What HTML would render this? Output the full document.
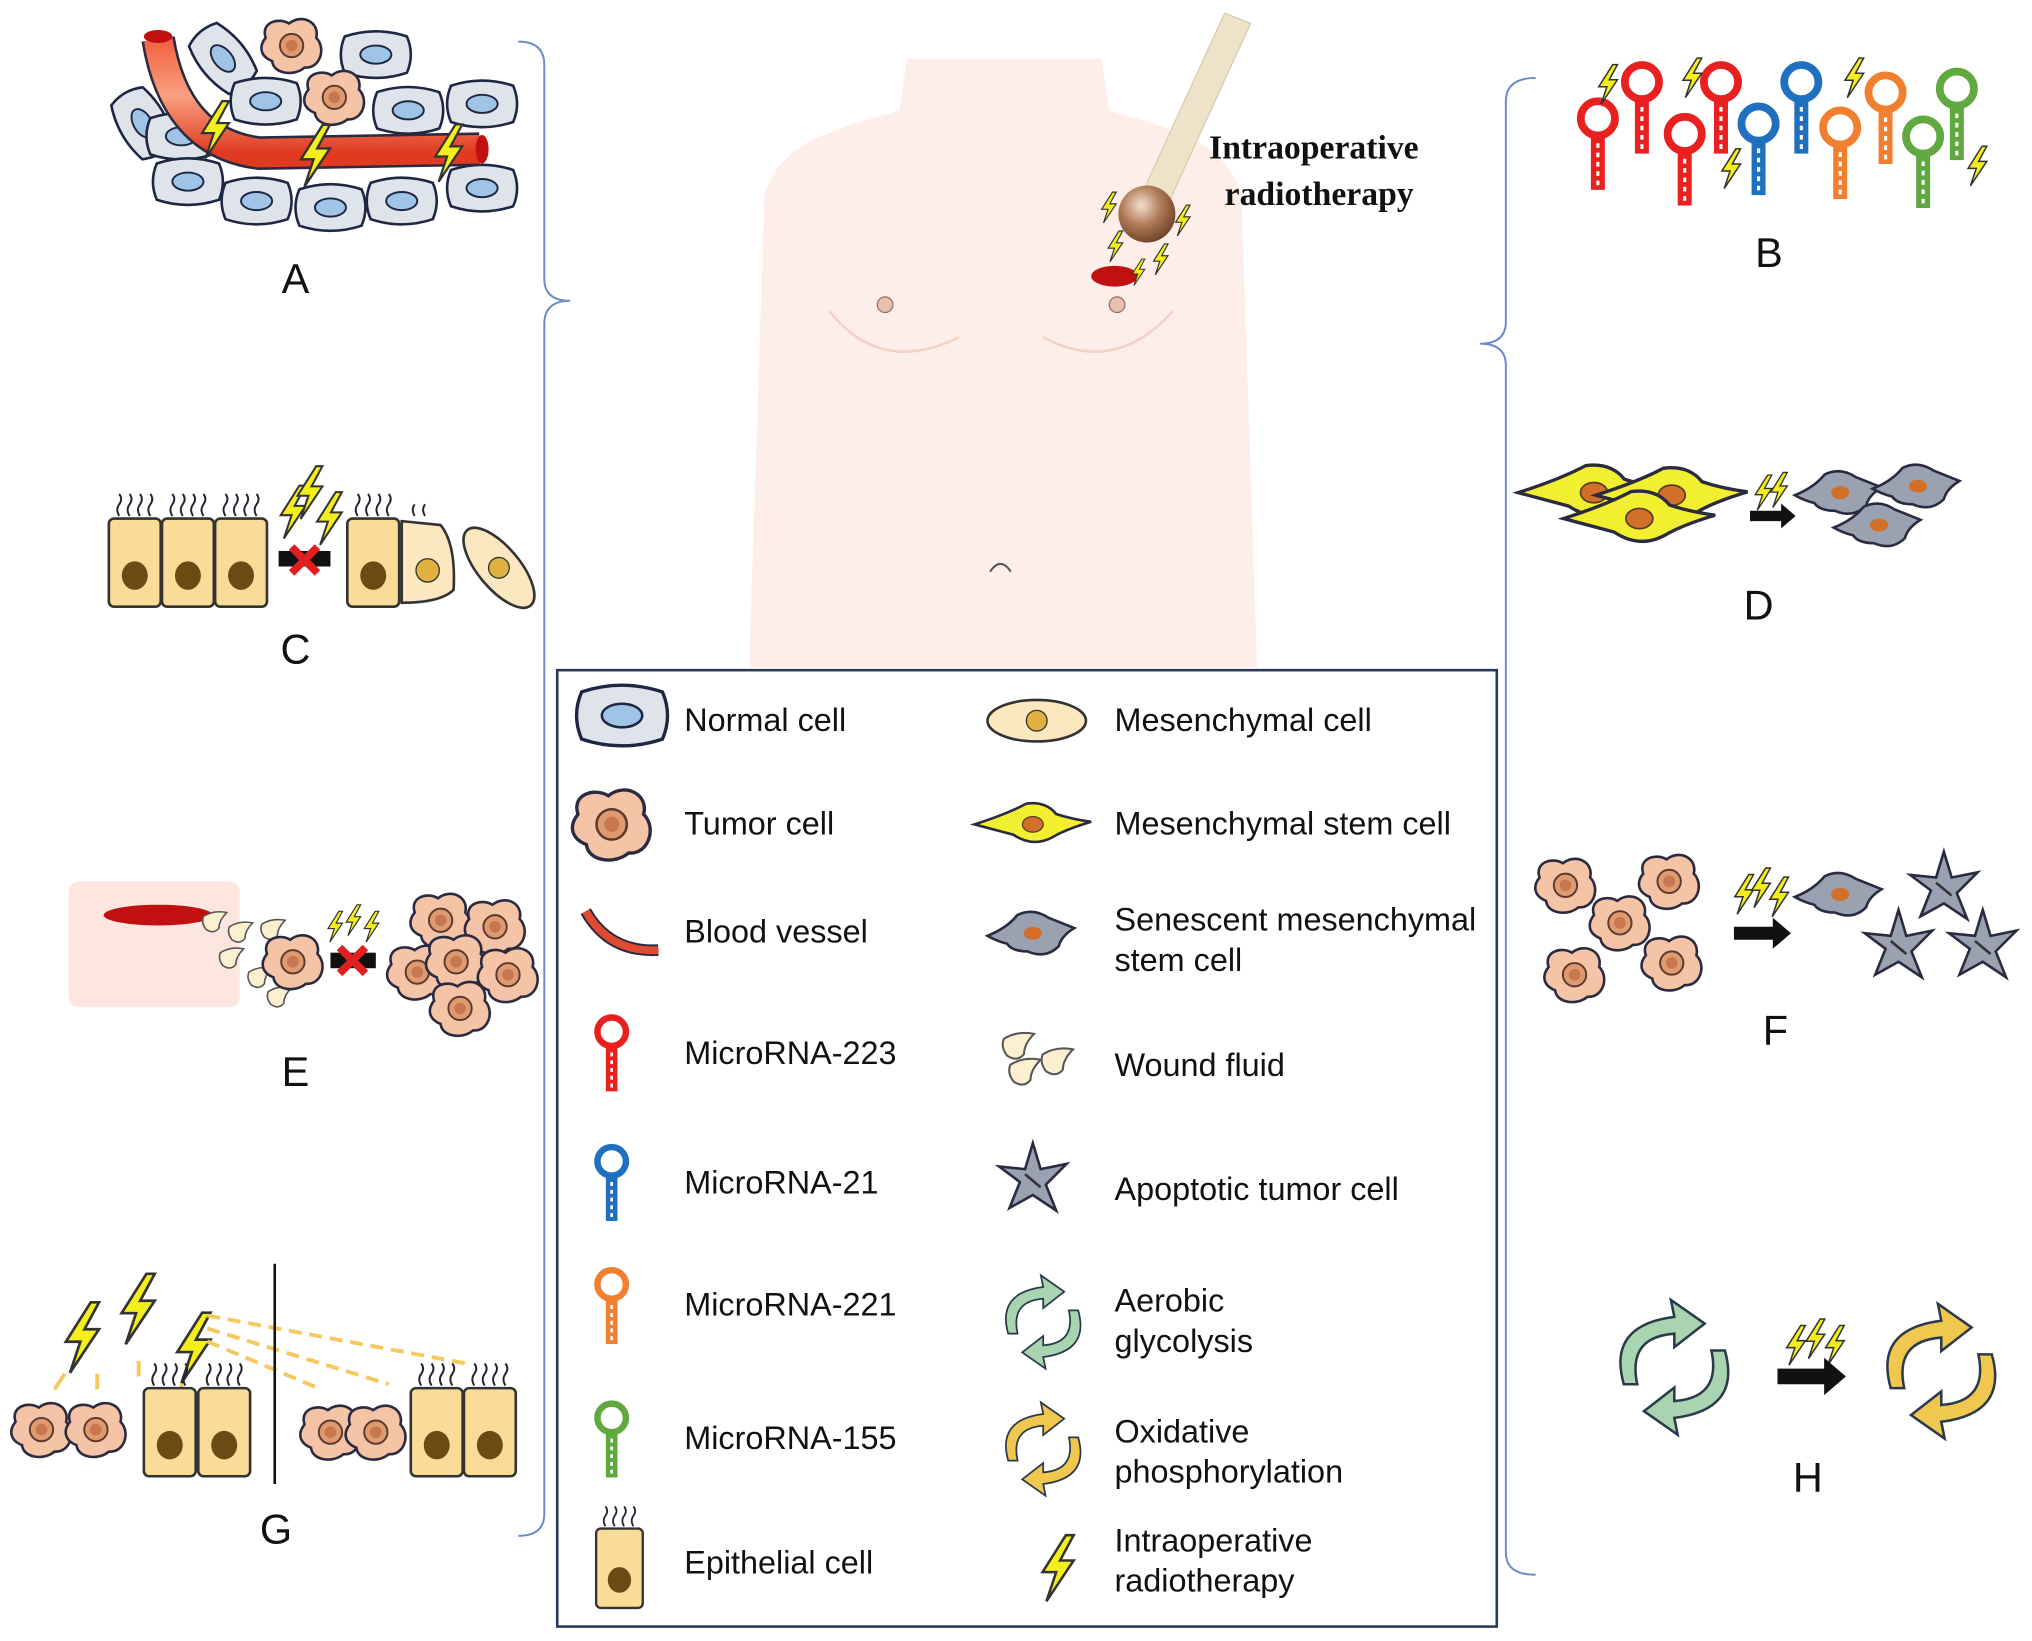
<!DOCTYPE html>
<html><head><meta charset="utf-8"><style>
html,body{margin:0;padding:0;background:#fff;}
svg{display:block;}
text{font-family:"Liberation Sans",Arial,sans-serif;fill:#111;}
</style></head><body>
<svg width="2032" height="1641" viewBox="0 0 1568 1266" xmlns="http://www.w3.org/2000/svg">
<defs>
<radialGradient id="ball" cx="0.4" cy="0.35" r="0.7"><stop offset="0" stop-color="#f3e0d0"/><stop offset="0.5" stop-color="#b07a58"/><stop offset="1" stop-color="#6a3e24"/></radialGradient>
<linearGradient id="ves" x1="0" y1="0" x2="0" y2="1"><stop offset="0" stop-color="#f06040"/><stop offset="0.5" stop-color="#f8a080"/><stop offset="1" stop-color="#e03a20"/></linearGradient>
<g id="nc"><path d="M-24,-14 Q0,-22 24,-14 Q30,0 24,14 Q0,22 -24,14 Q-30,0 -24,-14Z" fill="#dfe4ea" stroke="#1d2744" stroke-width="2"/><ellipse rx="12" ry="7" fill="#9fc4e6" stroke="#1d2744" stroke-width="1.5"/></g>
<g id="tc"><path d="M-20,-6 C-24,-18 -10,-22 -2,-17 C8,-25 22,-18 19,-6 C27,2 22,18 10,17 C2,24 -14,22 -15,12 C-25,8 -25,0 -20,-6Z" fill="#f5c3a6" stroke="#2a2a40" stroke-width="2"/><circle r="9" fill="#e09a70" stroke="#5a3a30" stroke-width="1.5"/><circle r="4.5" fill="#c87850"/></g>
<g id="mr"><circle cy="-14" r="11" fill="#fff" stroke="currentColor" stroke-width="5"/><line y1="-3" y2="32" stroke="currentColor" stroke-width="9"/><line y1="2" y2="30" stroke="#fff" stroke-width="2" stroke-dasharray="3,3"/></g>
<g id="bolt"><polygon points="5,-17 -7,2 0,2 -5,17 9,-4 2,-4 9,-17" fill="#f4ef1c" stroke="#333" stroke-width="1.3"/></g>
<g id="ep"><rect x="-20" y="-34" width="40" height="68" rx="4" fill="#f8dc98" stroke="#333" stroke-width="2"/><ellipse cy="10" rx="10" ry="11" fill="#6b4a14"/><path d="M-12,-36 q-3,-5 0,-9 q3,-4 0,-8 M-4,-36 q-3,-5 0,-9 q3,-4 0,-8 M4,-36 q-3,-5 0,-9 q3,-4 0,-8 M12,-36 q-3,-5 0,-9 q3,-4 0,-8" fill="none" stroke="#223" stroke-width="1.5"/></g>
<g id="msc"><path d="M-45,0 Q-20,-8 -5,-16 Q10,-18 18,-8 Q30,-4 45,-2 Q25,4 15,10 Q0,18 -15,8 Q-30,4 -45,0Z" fill="#f2ee30" stroke="#2a2a40" stroke-width="2"/><ellipse rx="8" ry="6" fill="#d2702a" stroke="#5a3a20"/></g>
<g id="sen"><path d="M-35,2 Q-20,-4 -12,-14 Q0,-20 12,-12 Q22,-8 32,-4 Q22,2 20,10 Q10,20 -4,14 Q-16,14 -20,8 Q-28,6 -35,2Z" fill="#9aa2b2" stroke="#2a2a40" stroke-width="2"/><ellipse rx="7" ry="5" fill="#d2702a"/></g>
<g id="apo"><path d="M0,-28 L6,-8 L26,-12 L10,4 L18,24 L0,12 L-18,22 L-10,2 L-26,-10 L-6,-8Z" fill="#9aa2b2" stroke="#2a2a40" stroke-width="2"/><line x1="-6" y1="-4" x2="6" y2="6" stroke="#333" stroke-width="2"/></g>
<g id="mes"><ellipse rx="38" ry="16" fill="#fbe8c0" stroke="#333" stroke-width="2"/><circle r="8" fill="#e0b040" stroke="#333"/></g>
<g id="drop"><path d="M-8,-5 Q0,-10 10,-8 Q4,-2 4,4 Q0,9 -6,5 Q-10,0 -8,-5Z" fill="#fbefd0" stroke="#555" stroke-width="1.2"/></g>
<g id="cycG"><path d="M-30,10 Q-40,-25 0,-30 L-2,-40 L18,-26 L0,-12 L0,-20 Q-28,-18 -22,10Z" fill="#a8d4b0" stroke="#2a3a4a" stroke-width="1.5"/><path d="M30,-10 Q40,25 0,30 L2,40 L-18,26 L0,12 L0,20 Q28,18 22,-10Z" fill="#a8d4b0" stroke="#2a3a4a" stroke-width="1.5"/></g>
<g id="cycY"><path d="M-30,10 Q-40,-25 0,-30 L-2,-40 L18,-26 L0,-12 L0,-20 Q-28,-18 -22,10Z" fill="#f0c850" stroke="#2a3a4a" stroke-width="1.5"/><path d="M30,-10 Q40,25 0,30 L2,40 L-18,26 L0,12 L0,20 Q28,18 22,-10Z" fill="#f0c850" stroke="#2a3a4a" stroke-width="1.5"/></g>
<g id="arr"><path d="M-22,-5 L8,-5 L8,-12 L22,0 L8,12 L8,5 L-22,5Z" fill="#111"/></g>
<g id="xx"><path d="M-10,-10 L10,10 M10,-10 L-10,10" stroke="#e02020" stroke-width="6"/></g>
</defs>

<!-- body -->
<path d="M700,45 L850,45 L856,85 C905,100 945,108 958,150 L970,515 L578,515 L590,150 C603,108 645,100 694,85 Z" fill="#fdeee9"/>
<path d="M640,240 Q680,290 740,260 M805,260 Q860,290 905,240" fill="none" stroke="#f2d2c6" stroke-width="2"/>
<circle cx="683" cy="235" r="6" fill="#e8c0b0" stroke="#a07060"/><circle cx="862" cy="235" r="6" fill="#e8c0b0" stroke="#a07060"/>
<path d="M764,441 Q772,429 780,441" fill="none" stroke="#555" stroke-width="1.5"/>
<!-- probe -->
<polygon points="945,10 965,18 900,160 880,152" fill="#eee2c8" stroke="#d8ccb0"/>
<ellipse cx="860" cy="213" rx="18" ry="8" fill="#c01010"/>
<circle cx="885" cy="165" r="22" fill="url(#ball)"/>
<use href="#bolt" transform="translate(855,160) scale(0.7)"/><use href="#bolt" transform="translate(912,170) scale(0.7)"/><use href="#bolt" transform="translate(860,190) scale(0.7)"/><use href="#bolt" transform="translate(895,200) scale(0.7)"/><use href="#bolt" transform="translate(878,210) scale(0.6)"/>
<text x="933" y="122" font-weight="bold" font-size="26" style="font-family:'Liberation Serif',serif">Intraoperative</text>
<text x="945" y="158" font-weight="bold" font-size="26" style="font-family:'Liberation Serif',serif">radiotherapy</text>

<!-- brackets -->
<path d="M400,32 Q420,32 420,50 L420,215 Q420,232 440,232 Q420,232 420,250 L420,1168 Q420,1185 400,1185" fill="none" stroke="#6a8ac8" stroke-width="1.5"/>
<path d="M1185,60 Q1162,60 1162,78 L1162,248 Q1162,265 1142,265 Q1162,265 1162,282 L1162,1198 Q1162,1215 1185,1215" fill="none" stroke="#6a8ac8" stroke-width="1.5"/>

<!-- legend -->
<rect x="430" y="517" width="725" height="738" fill="#fff" stroke="#2a3a5a" stroke-width="2"/>
<g font-size="25">
<use href="#nc" transform="translate(480,552) scale(1.3)"/><text x="528" y="564">Normal cell</text>
<use href="#tc" transform="translate(472,636) scale(1.3)"/><text x="528" y="644">Tumor cell</text>
<path d="M452,703 Q470,735 508,733" fill="none" stroke="#2a2a40" stroke-width="9"/><path d="M452,703 Q470,735 508,733" fill="none" stroke="#e04a30" stroke-width="6"/><text x="528" y="727">Blood vessel</text>
<use href="#mr" color="#e82020" transform="translate(472,810)"/><text x="528" y="821">MicroRNA-223</text>
<use href="#mr" color="#2070c0" transform="translate(472,910)"/><text x="528" y="921">MicroRNA-21</text>
<use href="#mr" color="#f08030" transform="translate(472,1005)"/><text x="528" y="1015">MicroRNA-221</text>
<use href="#mr" color="#60a840" transform="translate(472,1108)"/><text x="528" y="1118">MicroRNA-155</text>
<use href="#ep" transform="translate(478,1210) scale(0.9)"/><text x="528" y="1214">Epithelial cell</text>
<use href="#mes" transform="translate(800,556)"/><text x="860" y="564">Mesenchymal cell</text>
<use href="#msc" transform="translate(797,636)"/><text x="860" y="644">Mesenchymal stem cell</text>
<use href="#sen" transform="translate(797,720)"/><text x="860" y="718">Senescent mesenchymal</text><text x="860" y="749">stem cell</text>
<use href="#drop" transform="translate(785,808) scale(1.3)"/><use href="#drop" transform="translate(815,820) scale(1.3)"/><use href="#drop" transform="translate(790,828) scale(1.3)"/><text x="860" y="830">Wound fluid</text>
<use href="#apo" transform="translate(797,910)"/><text x="860" y="926">Apoptotic tumor cell</text>
<use href="#cycG" transform="translate(805,1020) scale(0.9)"/><text x="860" y="1012">Aerobic</text><text x="860" y="1043">glycolysis</text>
<use href="#cycY" transform="translate(805,1118) scale(0.9)"/><text x="860" y="1113">Oxidative</text><text x="860" y="1144">phosphorylation</text>
<use href="#bolt" transform="translate(815,1210) scale(1.5)"/><text x="860" y="1197">Intraoperative</text><text x="860" y="1228">radiotherapy</text>
</g>

<!-- Panel A -->
<g>
<use href="#nc" transform="translate(110,95) rotate(60)"/><use href="#nc" transform="translate(172,45) rotate(50)"/><use href="#tc" transform="translate(225,35)"/><use href="#nc" transform="translate(290,42)"/>
<use href="#nc" transform="translate(140,105)"/><use href="#nc" transform="translate(205,78)"/><use href="#tc" transform="translate(258,75)"/><use href="#nc" transform="translate(315,85)"/><use href="#nc" transform="translate(372,80)"/>
<use href="#nc" transform="translate(145,140)"/><use href="#nc" transform="translate(198,155)"/><use href="#nc" transform="translate(255,160)"/><use href="#nc" transform="translate(310,155)"/><use href="#nc" transform="translate(372,145)"/>
<path d="M122,30 Q135,110 200,118 L370,115" fill="none" stroke="#2a2a40" stroke-width="26"/>
<path d="M122,30 Q135,110 200,118 L370,115" fill="none" stroke="url(#ves)" stroke-width="22"/>
<ellipse cx="122" cy="28" rx="11" ry="5" fill="#c01010"/><ellipse cx="372" cy="115" rx="5" ry="11" fill="#c01010"/>
<use href="#bolt" transform="translate(165,100) scale(1.3)"/><use href="#bolt" transform="translate(242,120) scale(1.4)"/><use href="#bolt" transform="translate(345,118) scale(1.3)"/>
</g>
<text x="228" y="226" font-size="32" text-anchor="middle">A</text>

<!-- Panel B -->
<g>
<use href="#mr" color="#e82020" transform="translate(1233,108) scale(1.2)"/><use href="#mr" color="#e82020" transform="translate(1267,80) scale(1.2)"/><use href="#mr" color="#e82020" transform="translate(1300,120) scale(1.2)"/><use href="#mr" color="#e82020" transform="translate(1328,80) scale(1.2)"/>
<use href="#mr" color="#2070c0" transform="translate(1357,112) scale(1.2)"/><use href="#mr" color="#2070c0" transform="translate(1390,80) scale(1.2)"/>
<use href="#mr" color="#f08030" transform="translate(1420,115) scale(1.2)"/><use href="#mr" color="#f08030" transform="translate(1455,88) scale(1.2)"/>
<use href="#mr" color="#60a840" transform="translate(1484,122) scale(1.2)"/><use href="#mr" color="#60a840" transform="translate(1510,85) scale(1.2)"/>
<use href="#bolt" transform="translate(1240,65) scale(0.9)"/><use href="#bolt" transform="translate(1305,60) scale(0.9)"/><use href="#bolt" transform="translate(1335,130) scale(0.9)"/><use href="#bolt" transform="translate(1430,60) scale(0.9)"/><use href="#bolt" transform="translate(1525,128) scale(0.9)"/>
</g>
<text x="1365" y="206" font-size="32" text-anchor="middle">B</text>

<!-- Panel C -->
<use href="#ep" transform="translate(104,434)"/><use href="#ep" transform="translate(145,434)"/><use href="#ep" transform="translate(186,434)"/>
<use href="#bolt" transform="translate(225,395) scale(1.2)"/><use href="#bolt" transform="translate(238,380) scale(1.2)"/><use href="#bolt" transform="translate(253,400) scale(1.2)"/>
<rect x="215" y="425" width="40" height="12" fill="#111"/><use href="#xx" transform="translate(235,432)"/>
<use href="#ep" transform="translate(288,434)"/>
<path d="M310,402 L340,405 Q352,420 350,455 Q340,465 310,465Z" fill="#fbe8c0" stroke="#333" stroke-width="2"/><circle cx="330" cy="440" r="9" fill="#e0b040" stroke="#333"/><path d="M320,398 q-3,-5 0,-9 M328,398 q-3,-5 0,-9" fill="none" stroke="#223" stroke-width="1.5"/>
<use href="#mes" transform="translate(385,438) rotate(50)"/>
<text x="228" y="512" font-size="32" text-anchor="middle">C</text>

<!-- Panel D -->
<use href="#msc" transform="translate(1230,380) scale(1.3)"/><use href="#msc" transform="translate(1290,382) scale(1.3)"/><use href="#msc" transform="translate(1265,400) scale(1.3)"/>
<use href="#bolt" transform="translate(1360,380) scale(0.8)"/><use href="#bolt" transform="translate(1372,378) scale(0.8)"/>
<use href="#arr" transform="translate(1368,398) scale(0.8)"/>
<use href="#sen" transform="translate(1420,380)"/><use href="#sen" transform="translate(1480,375)"/><use href="#sen" transform="translate(1450,405)"/>
<text x="1357" y="478" font-size="32" text-anchor="middle">D</text>

<!-- Panel E -->
<rect x="53" y="680" width="132" height="97" rx="8" fill="#fde6e0"/>
<ellipse cx="122" cy="706" rx="42" ry="8" fill="#c01010"/>
<use href="#drop" transform="translate(165,712)"/><use href="#drop" transform="translate(185,720)"/><use href="#drop" transform="translate(178,740)"/><use href="#drop" transform="translate(210,718)"/><use href="#drop" transform="translate(200,755)"/><use href="#drop" transform="translate(215,770)"/>
<use href="#tc" transform="translate(226,742)"/>
<use href="#bolt" transform="translate(258,715) scale(0.7)"/><use href="#bolt" transform="translate(272,710) scale(0.7)"/><use href="#bolt" transform="translate(286,715) scale(0.7)"/>
<rect x="255" y="735" width="35" height="12" fill="#111"/><use href="#xx" transform="translate(272,741)"/>
<use href="#tc" transform="translate(340,710)"/><use href="#tc" transform="translate(382,715)"/><use href="#tc" transform="translate(322,750)"/><use href="#tc" transform="translate(352,742)"/><use href="#tc" transform="translate(392,752)"/><use href="#tc" transform="translate(355,778)"/>
<text x="228" y="838" font-size="32" text-anchor="middle">E</text>

<!-- Panel F -->
<use href="#tc" transform="translate(1208,683)"/><use href="#tc" transform="translate(1288,680)"/><use href="#tc" transform="translate(1250,712)"/><use href="#tc" transform="translate(1215,752)"/><use href="#tc" transform="translate(1290,743)"/>
<use href="#bolt" transform="translate(1345,690) scale(0.9)"/><use href="#bolt" transform="translate(1358,685) scale(0.9)"/><use href="#bolt" transform="translate(1372,692) scale(0.9)"/>
<use href="#arr" transform="translate(1360,720)"/>
<use href="#sen" transform="translate(1420,690)"/><use href="#apo" transform="translate(1500,685)"/><use href="#apo" transform="translate(1465,730)"/><use href="#apo" transform="translate(1530,730)"/>
<text x="1370" y="806" font-size="32" text-anchor="middle">F</text>

<!-- Panel G -->
<use href="#bolt" transform="translate(62,1032) scale(1.6)"/><use href="#bolt" transform="translate(105,1010) scale(1.6)"/><use href="#bolt" transform="translate(148,1040) scale(1.6)"/>
<g stroke="#f5c860" stroke-width="3" fill="#f5c860">
<line x1="50" y1="1060" x2="42" y2="1072"/><line x1="75" y1="1060" x2="75" y2="1072"/><line x1="107" y1="1050" x2="107" y2="1062"/><line x1="140" y1="1068" x2="140" y2="1075"/>
<line x1="160" y1="1015" x2="360" y2="1052" stroke-dasharray="10,6"/><line x1="160" y1="1025" x2="300" y2="1068" stroke-dasharray="10,6"/><line x1="160" y1="1035" x2="248" y2="1072" stroke-dasharray="10,6"/>
</g>
<use href="#tc" transform="translate(32,1103)"/><use href="#tc" transform="translate(74,1103)"/>
<use href="#ep" transform="translate(131,1105)"/><use href="#ep" transform="translate(173,1105)"/>
<line x1="212" y1="975" x2="212" y2="1145" stroke="#111" stroke-width="2"/>
<use href="#tc" transform="translate(255,1105)"/><use href="#tc" transform="translate(290,1105)"/>
<use href="#ep" transform="translate(337,1105)"/><use href="#ep" transform="translate(378,1105)"/>
<text x="213" y="1191" font-size="32" text-anchor="middle">G</text>

<!-- Panel H -->
<use href="#cycG" transform="translate(1292,1055) scale(1.3)"/>
<use href="#bolt" transform="translate(1385,1038) scale(0.9)"/><use href="#bolt" transform="translate(1400,1033) scale(0.9)"/><use href="#bolt" transform="translate(1415,1038) scale(0.9)"/>
<use href="#arr" transform="translate(1398,1062) scale(1.2)"/>
<use href="#cycY" transform="translate(1498,1058) scale(1.3)"/>
<text x="1395" y="1151" font-size="32" text-anchor="middle">H</text>
</svg>
</body></html>
